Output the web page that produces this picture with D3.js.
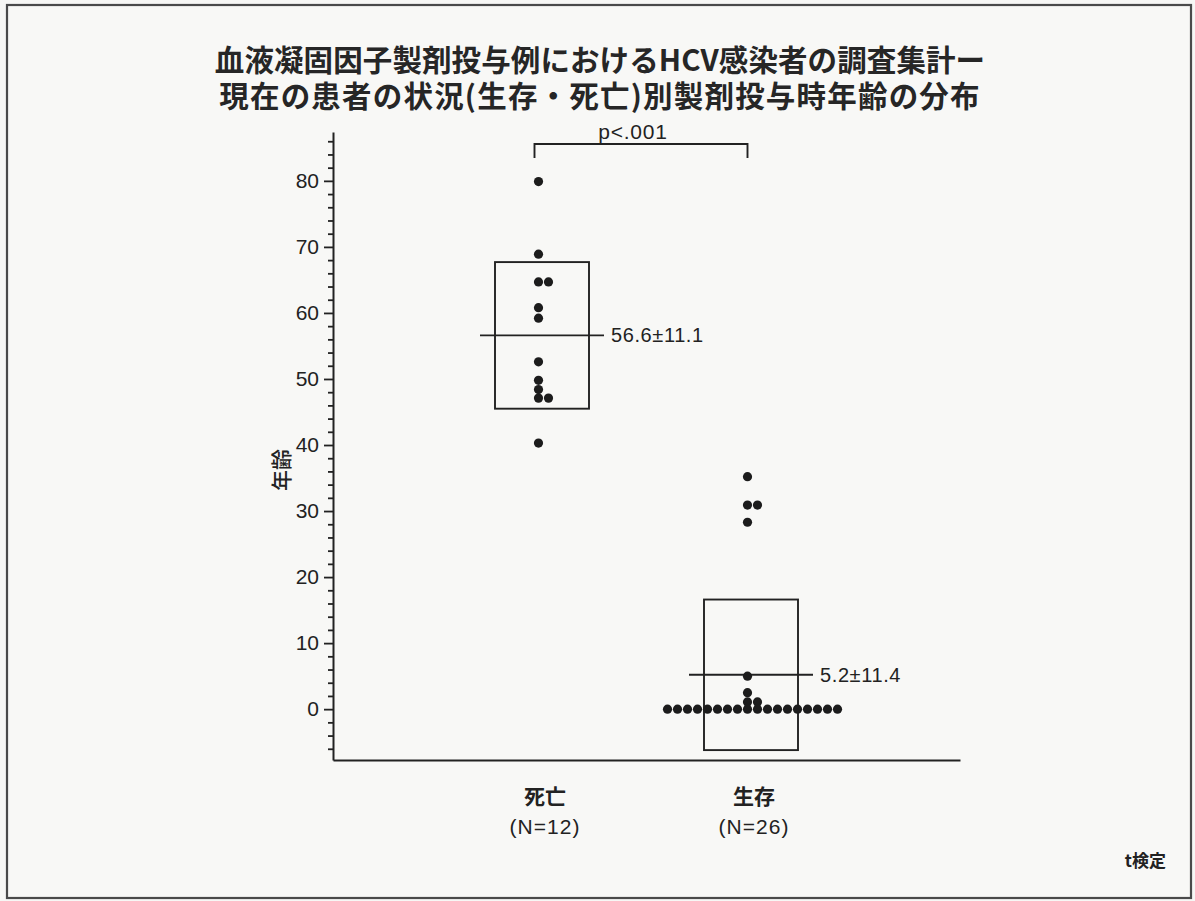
<!DOCTYPE html>
<html>
<head>
<meta charset="utf-8">
<script src="https://cdn.jsdelivr.net/npm/d3@7"></script>
<style>
  html, body { margin: 0; padding: 0; background: #f7f7f5; }
  svg { display: block; }
</style>
</head>
<body>
<svg id="chart" width="1195" height="901"></svg>
<script>
// ---- data ----
const categories = ["死亡", "生存"];
const groupSizes = ["(N=12)", "(N=26)"];
const deathAges = [79.9, 68.9, 64.7, 64.7, 60.8, 59.2, 52.6, 49.8, 48.4, 47.1, 47.1, 40.3];
const survivorAges = [35.2, 30.9, 30.9, 28.3, 5.0, 2.5, 1.1, 1.1,
  0, 0, 0, 0, 0, 0, 0, 0, 0, 0, 0, 0, 0, 0, 0, 0, 0, 0];
const groupMeans = [56.6, 5.2];
const groupSDs = [11.1, 11.4];
const majorTicks = [0, 10, 20, 30, 40, 50, 60, 70, 80];
const minorTicks = [-6, -4, -2, 2, 4, 6, 8, 12, 14, 16, 18, 22, 24, 26, 28, 32, 34, 36, 38,
  42, 44, 46, 48, 52, 54, 56, 58, 62, 64, 66, 68, 72, 74, 76, 78, 82, 84, 86];
const titleLines = ["血液凝固因子製剤投与例におけるHCV感染者の調査集計ー",
                    "現在の患者の状況(生存・死亡)別製剤投与時年齢の分布"];
const yTitle = "年齢";
const pLabel = "p<.001";
const testNote = "t検定";

const ink = "#222";
const latin = "'Liberation Sans', Arial, sans-serif";
const cjk = "'Noto Sans CJK JP', 'Noto Sans', sans-serif";

const svg = d3.select("#chart");

// page frame
svg.append("rect")
  .attr("x", 7).attr("y", 5).attr("width", 1184).attr("height", 893)
  .attr("fill", "#f8f8f6").attr("stroke", "#4a4a4a").attr("stroke-width", 2.2);

// ---- scales ----
const plot = { left: 333, right: 960, top: 132, bottom: 760 };
const y = d3.scaleLinear().domain([-7.7, 87.4]).range([plot.bottom, plot.top]);
const x = d3.scalePoint().domain(categories).range([plot.left, plot.right]).padding(1);

// ---- title (one text block, two lines) ----
const titleSpacing = [0.1, 1.2];
svg.append("text")
  .attr("text-anchor", "middle")
  .attr("font-family", cjk).attr("font-weight", 700).attr("font-size", 29.5)
  .attr("fill", "#262626")
  .selectAll("tspan").data(titleLines).join("tspan")
  .attr("x", 600).attr("y", (d, i) => 71 + i * 36)
  .attr("letter-spacing", (d, i) => titleSpacing[i])
  .text(d => d);

// ---- axes ----
const yAxis = svg.append("g").attr("transform", `translate(${plot.left},0)`)
  .call(d3.axisLeft(y).tickValues(majorTicks).tickSize(9).tickPadding(5).tickSizeOuter(0));
yAxis.select(".domain").attr("stroke", ink).attr("stroke-width", 2);
yAxis.selectAll(".tick line").attr("stroke", ink).attr("stroke-width", 1.8);
yAxis.selectAll(".tick text").attr("font-family", latin).attr("font-size", 21).attr("fill", ink);

const yMinor = svg.append("g").attr("transform", `translate(${plot.left},0)`)
  .call(d3.axisLeft(y).tickValues(minorTicks).tickSize(5).tickFormat("").tickSizeOuter(0));
yMinor.select(".domain").remove();
yMinor.selectAll(".tick line").attr("stroke", ink).attr("stroke-width", 1.8);

const xAxis = svg.append("g").attr("transform", `translate(0,${plot.bottom})`)
  .call(d3.axisBottom(x).tickValues([]).tickSizeOuter(0));
xAxis.select(".domain").attr("stroke", ink).attr("stroke-width", 2);

// y-axis title
svg.append("text")
  .attr("transform", `translate(280,470) rotate(-90)`)
  .attr("text-anchor", "middle").attr("dominant-baseline", "central")
  .attr("font-family", cjk).attr("font-weight", 500).attr("font-size", 21).attr("fill", ink)
  .text(yTitle);

// category labels
const catLabels = svg.append("g").selectAll("g").data(categories).join("g")
  .attr("transform", d => `translate(${x(d) + 3},0)`);
catLabels.append("text").attr("y", 804).attr("text-anchor", "middle")
  .attr("font-family", cjk).attr("font-weight", 700).attr("font-size", 21).attr("fill", ink)
  .text(d => d);
catLabels.append("text").attr("y", 834).attr("text-anchor", "middle")
  .attr("font-family", latin).attr("font-size", 21).attr("fill", ink)
  .attr("letter-spacing", 1)
  .text((d, i) => groupSizes[i]);

// ---- mean ± SD boxes ----
const summary = categories.map((c, i) => ({ cat: c, mean: groupMeans[i], sd: groupSDs[i] }));
const boxHalf = 47, lineHalf = 62;

svg.append("g").selectAll("rect").data(summary).join("rect")
  .attr("x", d => x(d.cat) - boxHalf)
  .attr("y", d => y(d.mean + d.sd))
  .attr("width", boxHalf * 2)
  .attr("height", d => y(d.mean - d.sd) - y(d.mean + d.sd))
  .attr("fill", "none").attr("stroke", ink).attr("stroke-width", 1.9);

svg.append("g").selectAll("line").data(summary).join("line")
  .attr("x1", d => x(d.cat) - lineHalf).attr("x2", d => x(d.cat) + lineHalf)
  .attr("y1", d => y(d.mean)).attr("y2", d => y(d.mean))
  .attr("stroke", ink).attr("stroke-width", 1.9);

svg.append("g").selectAll("text").data(summary).join("text")
  .attr("x", d => x(d.cat) + lineHalf + 7)
  .attr("y", d => y(d.mean)).attr("dominant-baseline", "central")
  .attr("font-family", latin).attr("font-size", 20).attr("fill", ink)
  .attr("letter-spacing", 0.6)
  .text(d => `${d.mean.toFixed(1)}±${d.sd.toFixed(1)}`);

// ---- individual ages as stacked dots ----
function stackDots(cat, values) {
  const out = [];
  d3.groups(values, v => v).forEach(([v, arr]) => {
    const start = -Math.floor((arr.length - 1) / 2);
    arr.forEach((_, i) => out.push({ cat, value: v, slot: start + i }));
  });
  return out;
}
const dots = [...stackDots(categories[0], deathAges), ...stackDots(categories[1], survivorAges)];
const dotStep = 10, dotShift = -3.5;

svg.append("g").selectAll("circle").data(dots).join("circle")
  .attr("cx", d => x(d.cat) + dotShift + d.slot * dotStep)
  .attr("cy", d => y(d.value))
  .attr("r", 4.6)
  .attr("fill", "#1c1c1c");

// ---- significance bracket ----
const bx0 = x(categories[0]) + dotShift - 4;
const bx1 = x(categories[1]) + dotShift;
svg.append("path")
  .attr("d", `M${bx0},158 V144 H${bx1} V158`)
  .attr("fill", "none").attr("stroke", ink).attr("stroke-width", 1.9);
svg.append("text")
  .attr("x", (bx0 + bx1) / 2 - 8).attr("y", 139).attr("text-anchor", "middle")
  .attr("font-family", latin).attr("font-size", 21).attr("fill", ink)
  .attr("letter-spacing", 0.8)
  .text(pLabel);

// test note
svg.append("text")
  .attr("x", 1166).attr("y", 867).attr("text-anchor", "end")
  .attr("font-family", cjk).attr("font-weight", 700).attr("font-size", 17).attr("fill", ink)
  .text(testNote);
</script>
</body>
</html>
